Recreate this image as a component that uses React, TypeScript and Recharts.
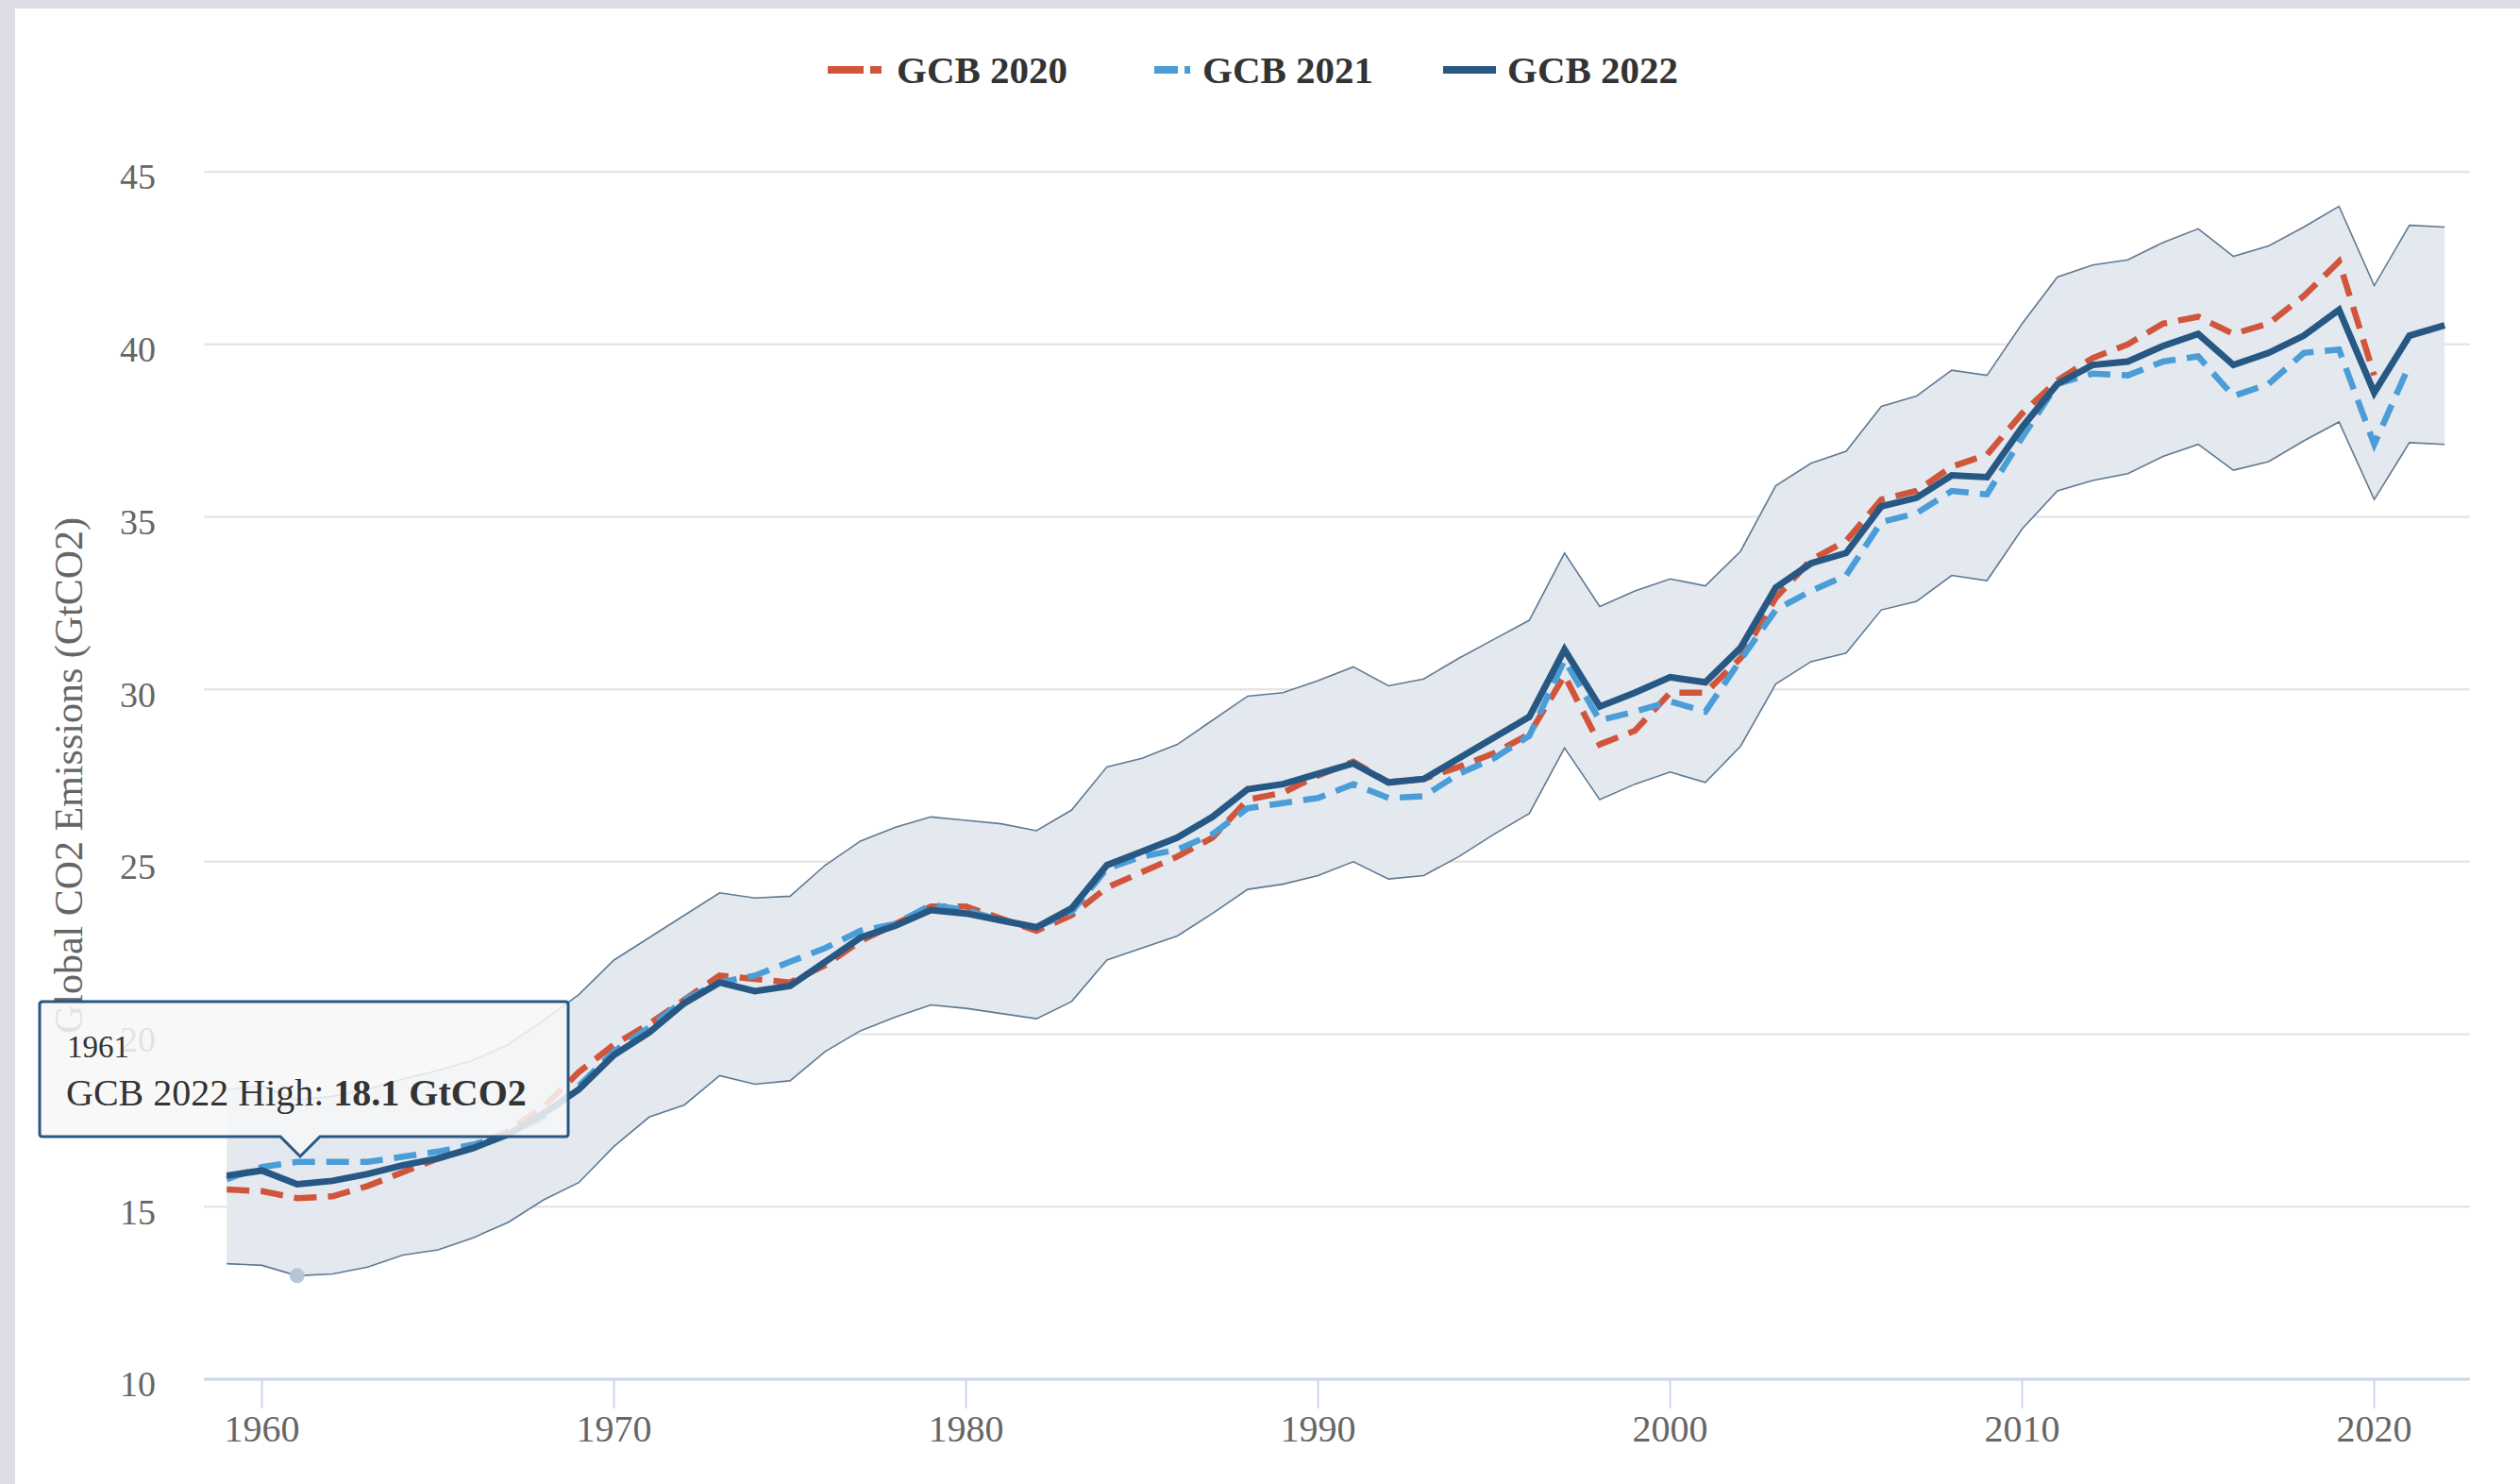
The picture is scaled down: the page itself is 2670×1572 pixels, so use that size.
import { ComposedChart, Line, Area, XAxis, YAxis, CartesianGrid, ReferenceDot } from 'recharts'

// Global CO2 emissions (GtCO2)
const years = [
  1959, 1960, 1961, 1962, 1963, 1964, 1965, 1966, 1967, 1968,
  1969, 1970, 1971, 1972, 1973, 1974, 1975, 1976, 1977, 1978,
  1979, 1980, 1981, 1982, 1983, 1984, 1985, 1986, 1987, 1988,
  1989, 1990, 1991, 1992, 1993, 1994, 1995, 1996, 1997, 1998,
  1999, 2000, 2001, 2002, 2003, 2004, 2005, 2006, 2007, 2008,
  2009, 2010, 2011, 2012, 2013, 2014, 2015, 2016, 2017, 2018,
  2019, 2020, 2021, 2022,
]

const gcb2020 = [
  15.5, 15.45, 15.25, 15.3, 15.6, 16.0, 16.4, 16.7, 17.2, 17.9,
  18.9, 19.7, 20.3, 21.0, 21.7, 21.6, 21.5, 22.0, 22.7, 23.2,
  23.7, 23.7, 23.35, 23.0, 23.45, 24.25, 24.7, 25.15, 25.7, 26.8,
  27.0, 27.5, 27.9, 27.3, 27.4, 27.75, 28.15, 28.7, 30.4, 28.4,
  28.8, 29.9, 29.9, 30.9, 32.65, 33.75, 34.3, 35.5, 35.75, 36.45,
  36.8, 38.0, 38.95, 39.6, 40.0, 40.6, 40.8, 40.3, 40.6, 41.4,
  42.4, 39.1,
]

const gcb2021 = [
  15.8, 16.15, 16.3, 16.3, 16.3, 16.45, 16.6, 16.8, 17.1, 17.6,
  18.5, 19.5, 20.2, 21.0, 21.5, 21.7, 22.1, 22.5, 23.0, 23.2,
  23.75, 23.6, 23.3, 23.1, 23.55, 24.8, 25.15, 25.35, 25.8, 26.55,
  26.7, 26.85, 27.25, 26.85, 26.9, 27.55, 28.0, 28.65, 30.85, 29.1,
  29.35, 29.65, 29.35, 30.85, 32.3, 32.85, 33.3, 34.85, 35.1, 35.75,
  35.65, 37.3, 38.85, 39.15, 39.1, 39.5, 39.65, 38.5, 38.85, 39.75,
  39.85, 37.1, 39.4,
]

const gcb2022 = [
  15.9, 16.05, 15.65, 15.75, 15.95, 16.2, 16.4, 16.7, 17.1, 17.7,
  18.4, 19.4, 20.05, 20.9, 21.5, 21.25, 21.4, 22.1, 22.8, 23.15,
  23.6, 23.5, 23.3, 23.1, 23.65, 24.9, 25.3, 25.7, 26.3, 27.1,
  27.25, 27.55, 27.85, 27.3, 27.4, 28.0, 28.6, 29.2, 31.15, 29.5,
  29.9, 30.35, 30.2, 31.2, 32.95, 33.65, 33.95, 35.3, 35.55, 36.2,
  36.15, 37.6, 38.85, 39.4, 39.5, 39.95, 40.3, 39.4, 39.75, 40.25,
  41.0, 38.6, 40.25, 40.55,
]

const gcb2022High = [
  18.4, 18.5, 18.1, 18.2, 18.4, 18.7, 18.95, 19.25, 19.7, 20.4,
  21.15, 22.15, 22.8, 23.45, 24.1, 23.95, 24.0, 24.9, 25.6, 26.0,
  26.3, 26.2, 26.1, 25.9, 26.5, 27.75, 28.0, 28.4, 29.1, 29.8,
  29.9, 30.25, 30.65, 30.1, 30.3, 30.9, 31.45, 32.0, 33.95, 32.4,
  32.85, 33.2, 33.0, 34.0, 35.9, 36.55, 36.9, 38.2, 38.5, 39.25,
  39.1, 40.6, 41.95, 42.3, 42.45, 42.95, 43.35, 42.55, 42.85, 43.4,
  44.0, 41.7, 43.45, 43.4,
]

const gcb2022Low = [
  13.35, 13.3, 13.0, 13.05, 13.25, 13.6, 13.75, 14.1, 14.55, 15.2,
  15.7, 16.75, 17.6, 17.95, 18.8, 18.55, 18.65, 19.5, 20.1, 20.5,
  20.85, 20.75, 20.6, 20.45, 20.95, 22.15, 22.5, 22.85, 23.5, 24.2,
  24.35, 24.6, 25.0, 24.5, 24.6, 25.15, 25.8, 26.4, 28.3, 26.8,
  27.25, 27.6, 27.3, 28.35, 30.15, 30.8, 31.05, 32.3, 32.55, 33.3,
  33.15, 34.65, 35.75, 36.05, 36.25, 36.75, 37.1, 36.35, 36.6, 37.2,
  37.75, 35.5, 37.15, 37.1,
]

const yearTicks = [1960, 1970, 1980, 1990, 2000, 2010, 2020]
const valueTicks = [10, 15, 20, 25, 30, 35, 40, 45]

const hoverIndex = 2 // 1961, shown in the tooltip

const data = years.map((year, i) => ({
  year,
  gcb2020: gcb2020[i] ?? null,
  gcb2021: gcb2021[i] ?? null,
  gcb2022: gcb2022[i],
  high: gcb2022High[i],
  low: gcb2022Low[i],
  band: [gcb2022Low[i], gcb2022High[i]],
}))

const RED = '#d0553b'
const BLUE = '#4b9dd7'
const NAVY = '#275884'
const FONT = "'Liberation Serif', 'Times New Roman', serif"

// legend items sit where Highcharts put them
const legendItems = [
  { name: 'GCB 2020', color: RED, left: 861, width: 57, dash: '38 7', textLeft: 934 },
  { name: 'GCB 2021', color: BLUE, left: 1207, width: 38, dash: '25 7', textLeft: 1258 },
  { name: 'GCB 2022', color: NAVY, left: 1513, width: 56, dash: undefined, textLeft: 1581 },
]

function ChartLegend() {
  return (
    <div
      style={{
        position: 'absolute',
        left: 0,
        top: 0,
        fontFamily: FONT,
        fontWeight: 'bold',
        fontSize: 41,
        lineHeight: 1,
        color: '#333',
      }}
    >
      {legendItems.map((item) => (
        <div key={item.name}>
          <svg width={item.width} height={12} style={{ position: 'absolute', left: item.left, top: 59 }}>
            <line x1={0} y1={6} x2={item.width} y2={6} stroke={item.color} strokeWidth={8} strokeDasharray={item.dash} />
          </svg>
          <span style={{ position: 'absolute', left: item.textLeft, top: 45, whiteSpace: 'nowrap' }}>{item.name}</span>
        </div>
      ))}
    </div>
  )
}

function HoverTooltip() {
  // box with a pointer under it, like the Highcharts tooltip
  const path = 'M 29 1052 L 583 1052 Q 586 1052 586 1055 L 586 1192 Q 586 1195 583 1195 L 323 1195 L 302 1216 L 281 1195 L 29 1195 Q 26 1195 26 1192 L 26 1055 Q 26 1052 29 1052 Z'
  return (
    <svg width={2654} height={1563} style={{ position: 'absolute', left: 0, top: 0, pointerEvents: 'none' }}>
      <path d={path} fill="rgba(247,247,247,0.86)" stroke={NAVY} strokeWidth={3} />
      <text x={55} y={1111} fontFamily={FONT} fontSize={33} fill="#333">
        {years[hoverIndex]}
      </text>
      <text x={54} y={1162} fontFamily={FONT} fontSize={40} fill="#333">
        GCB 2022 High: <tspan fontWeight="bold">{gcb2022High[hoverIndex].toFixed(1)} GtCO2</tspan>
      </text>
    </svg>
  )
}

export default function App() {
  return (
    <div style={{ position: 'absolute', left: 0, top: 0, width: 2670, height: 1572, background: '#dcdde5', overflow: 'hidden' }}>
      <div style={{ position: 'absolute', left: 16, top: 9, width: 2654, height: 1563, background: '#fff' }}>
        <ComposedChart
          width={2654}
          height={1563}
          data={data}
          margin={{ top: 173, right: 53, bottom: 51, left: 0 }}
        >
          <CartesianGrid vertical={false} stroke="#e6e6e6" strokeWidth={2.5} />
          <XAxis
            dataKey="year"
            type="number"
            domain={[1958.35, 2022.72]}
            ticks={yearTicks}
            allowDataOverflow
            height={60}
            axisLine={{ stroke: '#ccd6eb', strokeWidth: 3 }}
            tickLine={{ stroke: '#ccd6eb', strokeWidth: 2 }}
            tickSize={31}
            tickMargin={7}
            tick={{ fontSize: 40, fill: '#666', fontFamily: FONT }}
          />
          <YAxis
            type="number"
            domain={[10, 45]}
            ticks={valueTicks}
            width={200}
            axisLine={false}
            tickLine={false}
            tickSize={0}
            tickMargin={51}
            tick={{ fontSize: 38, fill: '#666', fontFamily: FONT, dy: 5 }}
            label={{
              value: 'Global CO2 Emissions (GtCO2)',
              angle: -90,
              position: 'insideLeft',
              offset: 56,
              style: { textAnchor: 'middle', fontSize: 42, fill: '#666', fontFamily: FONT },
            }}
          />
          <Area
            dataKey="band"
            fill="#e4e9f0"
            fillOpacity={1}
            stroke="none"
            isAnimationActive={false}
            activeDot={false}
          />
          <Line dataKey="high" stroke="#5f7a93" strokeWidth={1.6} dot={false} activeDot={false} isAnimationActive={false} />
          <Line dataKey="low" stroke="#5f7a93" strokeWidth={1.6} dot={false} activeDot={false} isAnimationActive={false} />
          <Line
            dataKey="gcb2020"
            name="GCB 2020"
            stroke={RED}
            strokeWidth={6.5}
            strokeDasharray="24 12"
            dot={false}
            activeDot={false}
            isAnimationActive={false}
          />
          <Line
            dataKey="gcb2021"
            name="GCB 2021"
            stroke={BLUE}
            strokeWidth={6.5}
            strokeDasharray="24 12"
            dot={false}
            activeDot={false}
            isAnimationActive={false}
          />
          <Line
            dataKey="gcb2022"
            name="GCB 2022"
            stroke={NAVY}
            strokeWidth={7}
            dot={false}
            activeDot={false}
            isAnimationActive={false}
          />
          <ReferenceDot x={years[hoverIndex]} y={gcb2022Low[hoverIndex]} r={8} fill="#b7c6d7" stroke="none" />
        </ComposedChart>
        <ChartLegend />
        <HoverTooltip />
      </div>
    </div>
  )
}
